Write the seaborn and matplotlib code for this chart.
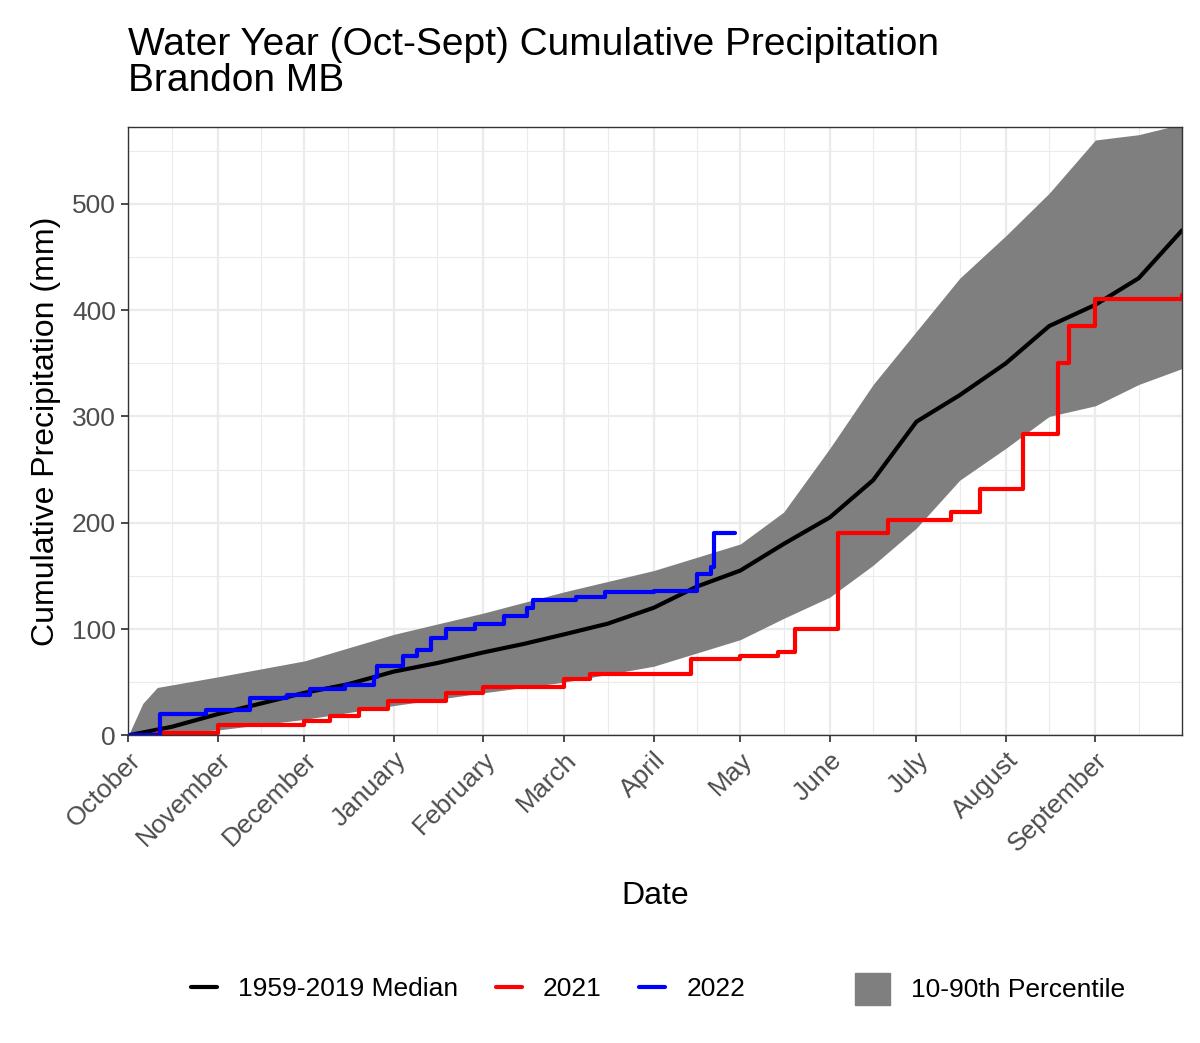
import numpy as np
import pandas as pd
import seaborn as sns
import matplotlib.pyplot as plt
from matplotlib.patches import Patch
from matplotlib.lines import Line2D
from matplotlib.ticker import MultipleLocator

# day of water year (0 = Oct 1)
month_days = [0, 31, 61, 92, 123, 151, 182, 212, 243, 273, 304, 335]
month_names = ['October', 'November', 'December', 'January', 'February', 'March',
               'April', 'May', 'June', 'July', 'August', 'September']

med_day = [0, 15, 31, 46, 61, 76, 92, 107, 123, 137, 151, 166, 182, 197, 212, 227,
           243, 258, 273, 288, 304, 319, 335, 350, 365]
med_val = [0, 8, 20, 30, 40, 48, 60, 68, 78, 86, 95, 105, 120, 140, 155, 180,
           205, 240, 295, 320, 350, 385, 405, 430, 475]

band_day = [0, 5, 10, 31, 61, 92, 123, 151, 182, 212, 227, 243, 258, 273, 288, 304, 319, 335, 350, 365]
band_hi = [0, 30, 45, 55, 70, 95, 115, 135, 155, 180, 210, 270, 330, 380, 430, 470, 510, 560, 565, 575]
band_lo = [0, 1, 2, 5, 15, 28, 40, 50, 65, 90, 110, 130, 160, 195, 240, 270, 300, 310, 330, 345]

y21_day = [10, 31, 61, 70, 80, 90, 110, 123, 151, 160, 195, 212, 225, 231, 246, 263, 285,
           295, 310, 322, 326, 335, 365]
y21_val = [2, 10, 13, 18, 25, 32, 40, 45, 53, 58, 72, 75, 78, 100, 190, 203, 210,
           232, 283, 350, 385, 410, 414]

y22_day = [0, 11, 27, 42, 55, 63, 75, 85, 86, 95, 100, 105, 110, 120, 130, 138, 140,
           155, 165, 182, 197, 202, 203, 210]
y22_val = [0, 20, 24, 35, 38, 44, 47, 55, 65, 75, 80, 92, 100, 105, 112, 120, 127,
           130, 135, 136, 152, 158, 190, 190]

sns.set_theme(style='whitegrid')
plt.rcParams['font.family'] = ['Liberation Sans', 'DejaVu Sans']

fig, ax = plt.subplots(figsize=(12, 10.43), dpi=100)
fig.subplots_adjust(left=0.107, right=0.985, top=0.878, bottom=0.295)

ax.fill_between(band_day, band_lo, band_hi, color='#7f7f7f', lw=0)
sns.lineplot(x=med_day, y=med_val, color='black', lw=3, ax=ax)
ax.step(y21_day, y21_val, where='post', color='red', lw=3)
ax.step(y22_day, y22_val, where='post', color='blue', lw=3)

ax.set_xlim(0, 365)
ax.set_ylim(0, 572)
ax.set_xticks(month_days)
ax.set_xticklabels(month_names, rotation=45, ha='right', rotation_mode='anchor',
                   fontsize=19, color='#4d4d4d')
ax.xaxis.set_minor_locator(plt.FixedLocator([d + 15 for d in month_days]))
ax.yaxis.set_major_locator(MultipleLocator(100))
ax.yaxis.set_minor_locator(MultipleLocator(50))
ax.tick_params(axis='y', labelsize=19, colors='#4d4d4d')
ax.tick_params(axis='both', which='major', length=5, color='#333333', bottom=True, left=True, pad=4)
ax.grid(which='major', color='#ebebeb', lw=1.6)
ax.grid(which='minor', color='#ebebeb', lw=0.8)
for s in ax.spines.values():
    s.set_color('#333333')
    s.set_linewidth(1)

ax.set_xlabel('Date', fontsize=23, labelpad=18, color='black')
ax.set_ylabel('Cumulative Precipitation (mm)', fontsize=23, color='black', labelpad=8)
fig.text(0.107, 0.905, 'Water Year (Oct-Sept) Cumulative Precipitation\nBrandon MB',
         fontsize=28, ha='left', va='bottom', linespacing=1.0, color='black')

handles = [Line2D([], [], color='black', lw=3), Line2D([], [], color='red', lw=3),
           Line2D([], [], color='blue', lw=3)]
fig.legend(handles, ['1959-2019 Median', '2021', '2022'], loc='center',
           bbox_to_anchor=(0.39, 0.052), ncol=3, frameon=False, fontsize=19,
           handlelength=1.0, columnspacing=1.4, labelcolor='black')
fig.legend([Patch(color='#7f7f7f')], ['10-90th Percentile'], loc='center',
           bbox_to_anchor=(0.825, 0.052), frameon=False, fontsize=19,
           handlelength=1.3, handleheight=1.5, labelcolor='black')

fig.savefig('out.png')
